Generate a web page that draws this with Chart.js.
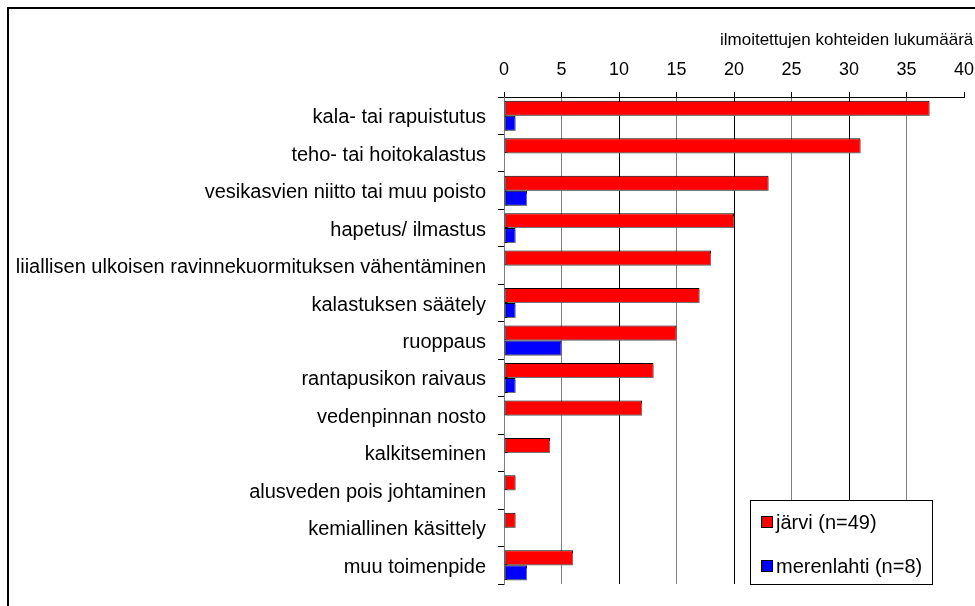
<!DOCTYPE html>
<html>
<head>
<meta charset="utf-8">
<script src="https://cdn.jsdelivr.net/npm/chart.js@4/dist/chart.umd.min.js"></script>
<style>
  html, body { margin: 0; padding: 0; background: #fff; }
  #wrap { width: 975px; height: 606px; position: relative; }
</style>
</head>
<body>
<div id="wrap"><canvas id="measures"></canvas></div>
<script>
(() => {
  "use strict";

  const FONT = "'Liberation Sans', Arial, sans-serif";

  const categories = [
    "kala- tai rapuistutus",
    "teho- tai hoitokalastus",
    "vesikasvien niitto tai muu poisto",
    "hapetus/ ilmastus",
    "liiallisen ulkoisen ravinnekuormituksen vähentäminen",
    "kalastuksen säätely",
    "ruoppaus",
    "rantapusikon raivaus",
    "vedenpinnan nosto",
    "kalkitseminen",
    "alusveden pois johtaminen",
    "kemiallinen käsittely",
    "muu toimenpide"
  ];

  const jarviValues = [37, 31, 23, 20, 18, 17, 15, 13, 12, 4, 1, 1, 6];
  const merenlahtiValues = [1, 0, 2, 1, 0, 1, 5, 1, 0, 0, 0, 0, 2];

  const seriesLabels = ["järvi (n=49)", "merenlahti (n=8)"];
  const seriesColours = ["#ff0000", "#0000ff"];

  const axisTitle = "ilmoitettujen kohteiden lukumäärä";
  const axisMin = 0;
  const axisMax = 40;
  const axisStep = 5;

  // frame round the whole chart, open at right and bottom like the source
  const framePlugin = {
    id: "frame",
    beforeDraw(chart) {
      const c = chart.ctx;
      c.save();
      c.fillStyle = "#fff";
      c.fillRect(0, 0, chart.width, chart.height);
      c.strokeStyle = "#000";
      c.lineWidth = 2;
      c.strokeRect(8, 8, chart.width + 20, chart.height + 20);
      c.restore();
    }
  };

  // flat gray drop shadow under the bars
  const shadowPlugin = {
    id: "barShadow",
    beforeDatasetsDraw(chart) {
      const c = chart.ctx;
      c.save();
      c.shadowColor = "rgba(128,128,128,0.9)";
      c.shadowOffsetX = 2;
      c.shadowOffsetY = 2;
      c.shadowBlur = 0;
    },
    afterDatasetsDraw(chart) {
      chart.ctx.restore();
    }
  };

  const titleAndLegendPlugin = {
    id: "titleLegend",
    afterDraw(chart) {
      const c = chart.ctx;
      c.save();
      c.fillStyle = "#000";
      c.font = `17px ${FONT}`;
      c.textAlign = "left";
      c.textBaseline = "alphabetic";
      c.fillText(axisTitle, 720, 45);

      // legend box
      const box = { x: 750.5, y: 500.5, w: 182, h: 84 };
      c.fillStyle = "#fff";
      c.fillRect(box.x, box.y, box.w, box.h);
      c.strokeStyle = "#000";
      c.lineWidth = 1;
      c.strokeRect(box.x, box.y, box.w, box.h);

      c.font = `20px ${FONT}`;
      c.textBaseline = "middle";
      seriesLabels.forEach((label, i) => {
        const cy = 522 + i * 44;
        c.fillStyle = seriesColours[i];
        c.fillRect(761.5, cy - 5.5, 11, 11);
        c.strokeRect(761.5, cy - 5.5, 11, 11);
        c.fillStyle = "#000";
        c.fillText(label, 776, cy + 1);
      });
      c.restore();
    }
  };

  const gridColour = (ctx) => {
    const v = ctx.tick ? ctx.tick.value : 0;
    if (v === axisMax) return "rgba(0,0,0,0)";
    return v % 10 === 0 ? "#000" : "#808080";
  };

  new Chart(document.getElementById("measures"), {
    type: "bar",
    data: {
      labels: categories,
      datasets: [
        {
          label: seriesLabels[0],
          data: jarviValues,
          backgroundColor: seriesColours[0],
          borderColor: "#000",
          borderWidth: 1,
          borderSkipped: false,
          categoryPercentage: 0.8,
          barPercentage: 1.0
        },
        {
          label: seriesLabels[1],
          data: merenlahtiValues,
          backgroundColor: seriesColours[1],
          borderColor: "#000",
          borderWidth: 1,
          borderSkipped: false,
          categoryPercentage: 0.8,
          barPercentage: 1.0
        }
      ]
    },
    options: {
      indexAxis: "y",
      responsive: true,
      maintainAspectRatio: false,
      animation: false,
      layout: { padding: { top: 0, left: 0, right: 11, bottom: 22 } },
      scales: {
        x: {
          position: "top",
          min: axisMin,
          max: axisMax,
          afterFit(scale) {
            scale.height = 97;
            scale.paddingLeft = 0;
            scale.paddingRight = 0;
          },
          ticks: {
            stepSize: axisStep,
            color: "#000",
            padding: 11,
            maxRotation: 0,
            font: { family: FONT, size: 18 }
          },
          grid: {
            color: gridColour,
            lineWidth: 1,
            tickLength: 5,
            tickColor: "#000"
          },
          border: { color: "#000", width: 1 }
        },
        y: {
          afterFit(scale) {
            scale.width = 504;
            scale.paddingTop = 0;
            scale.paddingBottom = 0;
          },
          ticks: {
            color: "#000",
            padding: 12,
            labelOffset: 2,
            font: { family: FONT, size: 20 }
          },
          grid: {
            drawOnChartArea: false,
            tickLength: 6,
            tickColor: "#000"
          },
          border: { color: "#808080", width: 1 }
        }
      },
      plugins: {
        legend: { display: false },
        tooltip: { enabled: false }
      }
    },
    plugins: [framePlugin, shadowPlugin, titleAndLegendPlugin]
  });
})();
</script>
</body>
</html>
